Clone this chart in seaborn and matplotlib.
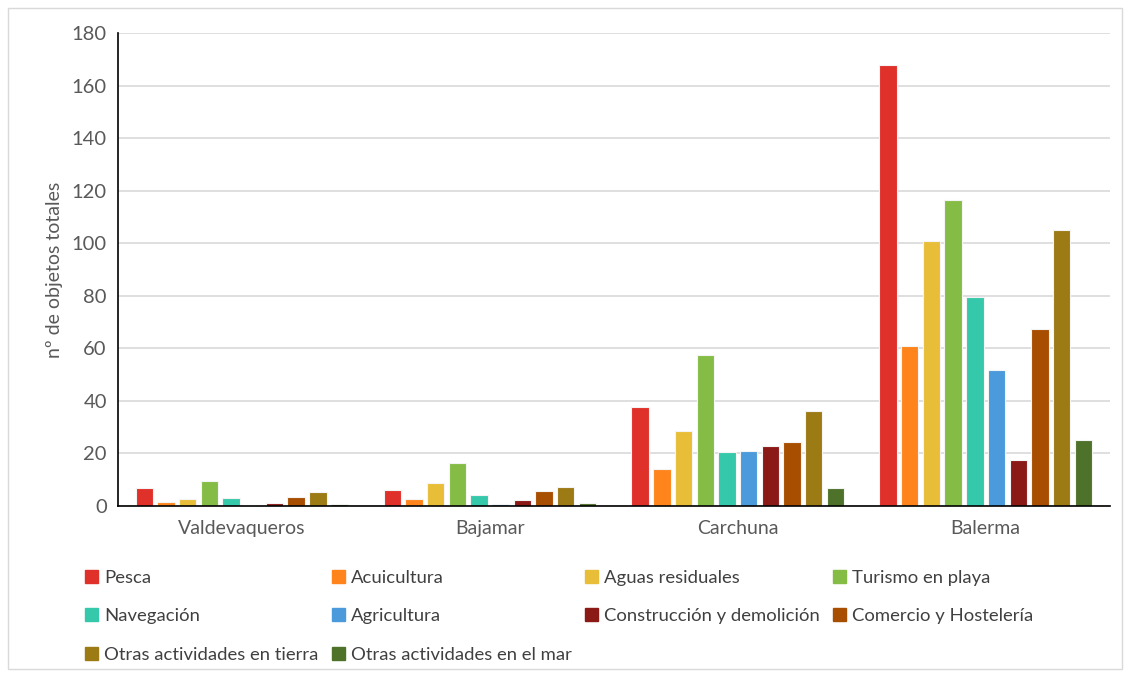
import numpy as np
import pandas as pd
import matplotlib.pyplot as plt
import matplotlib.patches as mpatches
import seaborn as sns

playas = ["Valdevaqueros", "Bajamar", "Carchuna", "Balerma"]
fuentes = ["Pesca", "Acuicultura", "Aguas residuales", "Turismo en playa",
           "Navegación", "Agricultura", "Construcción y demolición",
           "Comercio y Hostelería", "Otras actividades en tierra",
           "Otras actividades en el mar"]

pesca = [7, 6.1, 37.5, 168]
acuicultura = [1.7, 2.5, 14, 61]
aguas = [2.7, 8.7, 28.4, 101]
turismo = [9.4, 16.5, 57.3, 116.5]
navegacion = [3.2, 4, 20.4, 79.5]
agricultura = [0.5, 0.6, 20.8, 51.7]
construccion = [1.3, 2.2, 22.8, 17.5]
comercio = [3.4, 5.7, 24.2, 67.3]
otras_tierra = [5.4, 7.1, 36.3, 105]
otras_mar = [0.6, 1.3, 6.8, 25.3]

colores = ["#E0302A", "#FF841B", "#E8BE38", "#85BC45", "#36C8AA",
           "#4A9ADC", "#8B1A17", "#A84E00", "#9C7A14", "#4E7229"]

valores = [pesca, acuicultura, aguas, turismo, navegacion, agricultura,
           construccion, comercio, otras_tierra, otras_mar]
filas = []
for f, vals in zip(fuentes, valores):
    for p, v in zip(playas, vals):
        filas.append({"playa": p, "fuente": f, "n": v})
df = pd.DataFrame(filas)

sns.set_style("white")
plt.rcParams["font.family"] = ["Lato", "DejaVu Sans"]

fig = plt.figure(figsize=(11.3, 6.77), dpi=100)
ax = fig.add_axes([0.1044, 0.2526, 0.8776, 0.6987])

sns.barplot(data=df, x="playa", y="n", hue="fuente", hue_order=fuentes,
            order=playas, palette=colores, saturation=1, width=0.875, gap=0.2,
            edgecolor="#f4f4f4", linewidth=0.8, legend=False, ax=ax)

ax.set_ylim(0, 180)
ax.set_yticks(range(0, 181, 20))
ax.set_xlim(-0.5, 3.5)
ax.yaxis.grid(True, color="#D9D9D9", linewidth=1.2)
ax.set_axisbelow(True)
for s in ["top", "right"]:
    ax.spines[s].set_visible(False)
for s in ["left", "bottom"]:
    ax.spines[s].set_color("black")
    ax.spines[s].set_linewidth(1.2)
ax.tick_params(axis="both", length=0, labelsize=14.5, colors="#595959", pad=8)
ax.tick_params(axis="x", labelsize=14, pad=10)
ax.set_xlabel("")
ax.set_ylabel("nº de objetos totales", fontsize=14, color="#595959", labelpad=6)

# legend filled row by row like the original
orden = [0, 4, 8, 1, 5, 9, 2, 6, 3, 7]
handles = [mpatches.Patch(color=colores[i], label=fuentes[i]) for i in orden]
leg = fig.legend(handles=handles, ncol=4, loc="upper left",
                 bbox_to_anchor=(0.067, 0.172), frameon=False,
                 fontsize=13.3, handlelength=0.7, handleheight=0.7,
                 handletextpad=0.35, columnspacing=0.7, labelspacing=1.22,
                 labelcolor="#404040", borderpad=0)

fig.patches.append(mpatches.Rectangle((0.007, 0.012), 0.986, 0.976,
                                      transform=fig.transFigure, fill=False,
                                      edgecolor="#D9D9D9", linewidth=1))

fig.savefig("out.png", dpi=100)
